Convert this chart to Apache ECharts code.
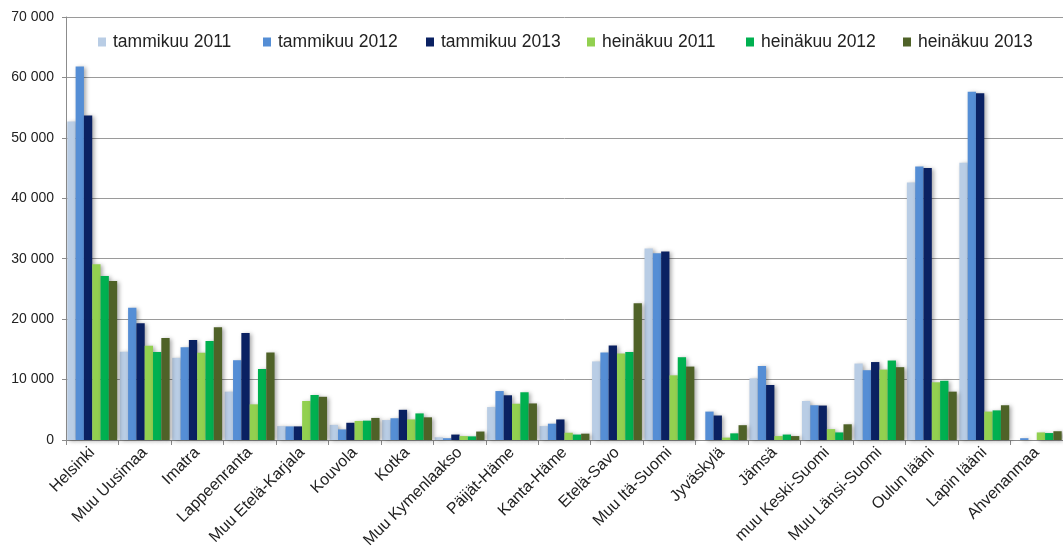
<!DOCTYPE html>
<html>
<head>
<meta charset="utf-8">
<script src="https://cdn.jsdelivr.net/npm/echarts@6/dist/echarts.min.js"></script>
<style>
  html, body { margin: 0; padding: 0; background: #ffffff; }
  #chart { width: 1063px; height: 558px; }
</style>
</head>
<body>
<div id="chart"></div>
<script>
// Regions on the category axis
const categories = ['Helsinki', 'Muu Uusimaa', 'Imatra', 'Lappeenranta', 'Muu Etelä-Karjala',
  'Kouvola', 'Kotka', 'Muu Kymenlaakso', 'Päijät-Häme', 'Kanta-Häme', 'Etelä-Savo',
  'Muu Itä-Suomi', 'Jyväskylä', 'Jämsä', 'muu Keski-Suomi', 'Muu Länsi-Suomi',
  'Oulun lääni', 'Lapin lääni', 'Ahvenanmaa'];

// Series names (legend order)
const seriesNames = ['tammikuu 2011', 'tammikuu 2012', 'tammikuu 2013',
  'heinäkuu 2011', 'heinäkuu 2012', 'heinäkuu 2013'];

// Values per series, one per region
const tammikuu2011 = [52700, 14600, 13600, 8000, 2300, 2500, 3300, 450, 5450, 2300, 13000, 31700, 0, 10200, 6450, 12650, 42600, 45900, 0];
const tammikuu2012 = [61800, 21900, 15350, 13200, 2250, 1750, 3600, 300, 8100, 2700, 14500, 30900, 4700, 12250, 5750, 11550, 45250, 57650, 300];
const tammikuu2013 = [53700, 19300, 16550, 17700, 2250, 2850, 5000, 900, 7400, 3400, 15650, 31200, 4050, 9100, 5700, 12900, 45000, 57400, 0];
const heinakuu2011 = [29100, 15600, 14450, 5900, 6450, 3150, 3400, 650, 6000, 1200, 14300, 10700, 400, 650, 1800, 11650, 9550, 4700, 1250];
const heinakuu2012 = [27150, 14550, 16400, 11750, 7450, 3200, 4400, 600, 7900, 900, 14550, 13700, 1100, 900, 1250, 13150, 9800, 4900, 1150];
const heinakuu2013 = [26300, 16900, 18650, 14500, 7150, 3650, 3750, 1400, 6050, 1050, 22650, 12150, 2450, 650, 2600, 12050, 8000, 5750, 1450];

const seriesValues = [tammikuu2011, tammikuu2012, tammikuu2013, heinakuu2011, heinakuu2012, heinakuu2013];
const seriesColors = ['#b9cde5', '#558ed5', '#0a2162', '#92d050', '#00b050', '#4f6228'];

// Value axis range
const yMin = 0;
const yMax = 70000;
const yStep = 10000;

// Left offsets of the legend entries
const legendLefts = [98, 263, 426, 587, 746, 903];

const FONT = '"Liberation Sans", Arial, sans-serif';

function spaced(v) {
  return String(v).replace(/\B(?=(\d{3})+(?!\d))/g, ' ');
}

const chart = echarts.init(document.getElementById('chart'), null, { renderer: 'canvas' });

chart.setOption({
  animation: false,
  backgroundColor: '#ffffff',
  textStyle: { fontFamily: FONT },
  grid: { left: 66, right: 0, top: 17, bottom: 118, containLabel: false },
  legend: seriesNames.map((name, i) => ({
    left: legendLefts[i],
    top: 33,
    padding: 0,
    icon: 'rect',
    itemWidth: 8,
    itemHeight: 9,
    textStyle: { fontFamily: FONT, fontSize: 17.5, color: '#222222', padding: [0, 0, 0, 2] },
    data: [name]
  })),
  xAxis: {
    type: 'category',
    data: categories,
    axisLine: { lineStyle: { color: '#8c8c8c', width: 1 } },
    axisTick: { show: true, length: 5, lineStyle: { color: '#8c8c8c' } },
    axisLabel: {
      rotate: 45,
      margin: 10,
      interval: 0,
      fontFamily: FONT,
      fontSize: 16,
      color: '#222222'
    }
  },
  yAxis: {
    type: 'value',
    min: yMin,
    max: yMax,
    interval: yStep,
    axisLine: { show: true, lineStyle: { color: '#8c8c8c', width: 1 } },
    axisTick: { show: true, length: 4, lineStyle: { color: '#8c8c8c' } },
    splitLine: { lineStyle: { color: '#9a9a9a', width: 1 } },
    axisLabel: {
      margin: 12,
      fontFamily: FONT,
      fontSize: 14,
      color: '#222222',
      formatter: spaced
    }
  },
  series: seriesNames.map((name, i) => ({
    name: name,
    type: 'bar',
    data: seriesValues[i],
    barGap: '0%',
    barCategoryGap: '5%',
    itemStyle: {
      color: seriesColors[i],
      shadowColor: 'rgba(0, 0, 0, 0.35)',
      shadowBlur: 4,
      shadowOffsetX: 2,
      shadowOffsetY: 1
    }
  }))
});
</script>
</body>
</html>
